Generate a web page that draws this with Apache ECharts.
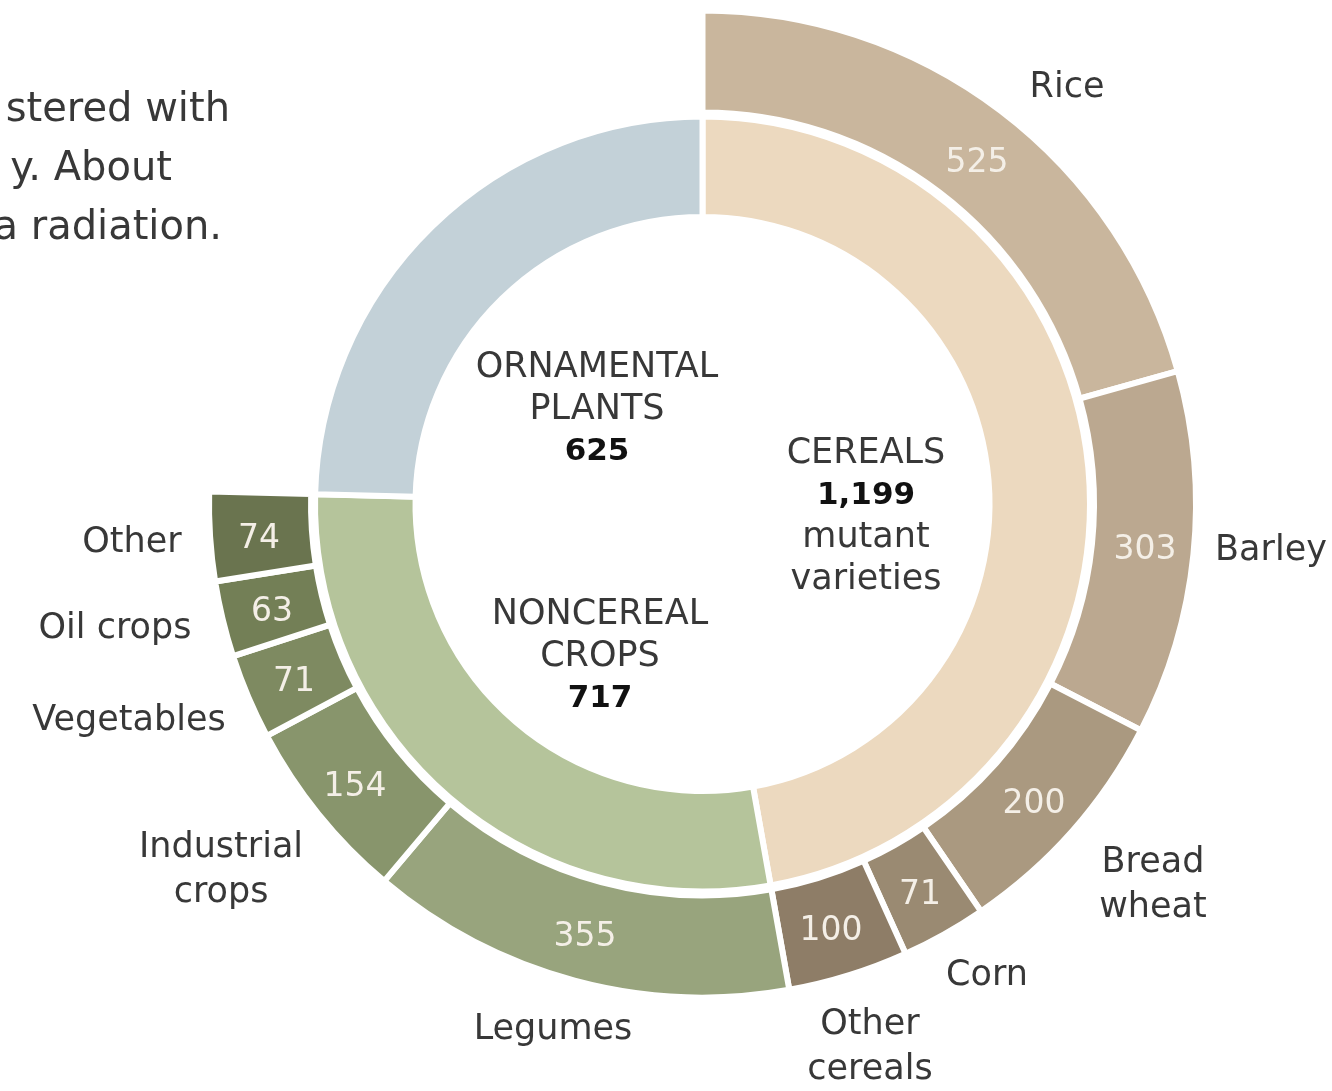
<!DOCTYPE html>
<html>
<head>
<meta charset="utf-8">
<title>Mutant varieties</title>
<script src="https://cdn.jsdelivr.net/npm/echarts@6/dist/echarts.min.js"></script>
<style>
  html, body { margin: 0; padding: 0; background: #fff; }
  #chart { width: 1332px; height: 1091px; }
</style>
</head>
<body>
<div id="chart"></div>
<script>
// inner ring: the three main groups
const groupNames = ['CEREALS', 'NONCEREAL\nCROPS', 'ORNAMENTAL\nPLANTS']
const groupValues = [1199, 717, 625]
const groupColors = ['#ecd9bf', '#b5c49b', '#c3d1d8']

// outer ring: breakdown of cereals and noncereal crops (ornamental has none)
const cropNames = ['Rice', 'Barley', 'Bread\nwheat', 'Corn', 'Other\ncereals',
    'Legumes', 'Industrial\ncrops', 'Vegetables', 'Oil crops', 'Other']
const cropValues = [525, 303, 200, 71, 100, 355, 154, 71, 63, 74]
const cropColors = ['#c9b69d', '#bba890', '#aa9980', '#9a8a72', '#8e7d67',
    '#98a47d', '#88956c', '#7e8a61', '#737f56', '#6a744f']

// text cut off at the left edge of the picture
const introLines = ['stered with', 'y. About', 'a radiation.']

// where the hand placed labels sit
const groupLabelPos = [[866, 517], [600, 657], [597, 410]]
const cropLabelPos = [[1067, 88], [1271, 551], [1153, 885], [987, 976], [870, 1047],
    [553, 1030], [221, 870], [129, 721], [115, 629], [132, 543]]
const valueLabelPos = [[977, 163], [1145, 550], [1034, 804], [920, 895], [831, 931],
    [585, 937], [355, 787], [294, 682], [272, 612], [259, 539]]
const introRight = [230, 172, 222]

const FONT = '"DejaVu Sans", "Liberation Sans", sans-serif'
const CENTER = [702.5, 504]
const ornamentalRest = groupValues[2]

const fmt = n => n.toLocaleString('en-US')

const groupData = groupNames.map((name, i) => ({
    name,
    value: groupValues[i],
    itemStyle: { color: groupColors[i] }
}))

// outer data + an invisible slice where the ornamental group sits
const outerData = (withColor) => cropNames.map((name, i) => ({
    name,
    value: cropValues[i],
    itemStyle: withColor ? { color: cropColors[i] } : { color: 'rgba(0,0,0,0)', borderWidth: 0 }
})).concat([{
    name: '',
    value: ornamentalRest,
    itemStyle: { color: 'rgba(0,0,0,0)', borderWidth: 0 },
    label: { show: false }
}])

const placeAt = list => params => {
    const p = list[params.dataIndex]
    if (!p) return {}
    return { x: p[0], y: p[1], align: 'center', verticalAlign: 'middle' }
}

const chart = echarts.init(document.getElementById('chart'))

chart.setOption({
    backgroundColor: '#fff',
    animation: false,
    graphic: introLines.map((t, i) => ({
        type: 'text',
        style: {
            text: t,
            x: introRight[i],
            y: 111 + i * 59,
            textAlign: 'right',
            textVerticalAlign: 'middle',
            fontSize: 40,
            fontFamily: FONT,
            fill: '#383838'
        }
    })),
    series: [
        {
            name: 'groups',
            type: 'pie',
            center: CENTER,
            radius: [287, 387.5],
            startAngle: 90,
            silent: true,
            avoidLabelOverlap: false,
            itemStyle: { borderColor: '#fff', borderWidth: 6, borderJoin: 'miter' },
            labelLine: { show: false },
            label: {
                show: true,
                position: 'outside',
                formatter: p => {
                    let s = p.name.split('\n').map(l => '{t|' + l + '}').join('\n')
                    s += '\n{n|' + fmt(p.value) + '}'
                    if (p.dataIndex === 0) s += '\n{t|mutant}\n{t|varieties}'
                    return s
                },
                rich: {
                    t: { fontFamily: FONT, fontSize: 35, color: '#383838', lineHeight: 42 },
                    n: { fontFamily: FONT, fontSize: 31, fontWeight: 'bold', color: '#111', lineHeight: 42 }
                }
            },
            labelLayout: placeAt(groupLabelPos),
            data: groupData
        },
        {
            name: 'crops',
            type: 'pie',
            center: CENTER,
            radius: [391.5, 493.5],
            startAngle: 90,
            silent: true,
            avoidLabelOverlap: false,
            itemStyle: { borderColor: '#fff', borderWidth: 6, borderJoin: 'miter' },
            labelLine: { show: false },
            label: {
                show: true,
                position: 'inside',
                formatter: p => fmt(p.value),
                fontFamily: FONT,
                fontSize: 33,
                color: '#f4efe7'
            },
            labelLayout: placeAt(valueLabelPos),
            data: outerData(true)
        },
        {
            name: 'crop names',
            type: 'pie',
            center: CENTER,
            radius: [391.5, 493.5],
            startAngle: 90,
            silent: true,
            avoidLabelOverlap: false,
            labelLine: { show: false },
            label: {
                show: true,
                position: 'outside',
                formatter: '{b}',
                fontFamily: FONT,
                fontSize: 35,
                lineHeight: 45,
                color: '#383838'
            },
            labelLayout: placeAt(cropLabelPos),
            data: outerData(false)
        }
    ]
})
</script>
</body>
</html>
